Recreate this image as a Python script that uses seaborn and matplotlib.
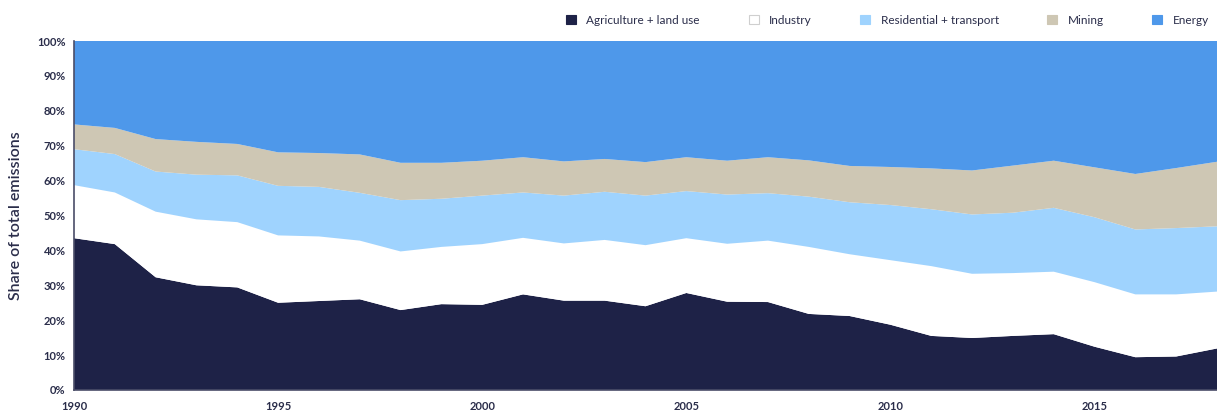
import numpy as np
import pandas as pd
import matplotlib
matplotlib.use("Agg")
import matplotlib.pyplot as plt
import seaborn as sns
from matplotlib.patches import Patch
from matplotlib.ticker import FuncFormatter

years = list(range(1990, 2019))
categories = ["Agriculture + land use", "Industry", "Residential + transport", "Mining", "Energy"]

agriculture = [43.5, 41.8, 32.3, 30.0, 29.4, 25.0, 25.5, 26.0, 22.9, 24.6,
               24.4, 27.4, 25.6, 25.6, 24.0, 27.8, 25.3, 25.2, 21.8, 21.2,
               18.7, 15.5, 14.9, 15.5, 16.0, 12.4, 9.4, 9.6, 11.9]
industry = [15.2, 14.8, 18.8, 18.9, 18.7, 19.3, 18.5, 16.8, 16.8, 16.4,
            17.4, 16.2, 16.4, 17.4, 17.5, 15.7, 16.6, 17.6, 19.2, 17.7,
            18.5, 20.0, 18.4, 18.0, 17.9, 18.5, 18.0, 17.8, 16.3]
residential = [10.3, 11.0, 11.5, 12.8, 13.4, 14.2, 14.2, 13.7, 14.7, 13.8,
               13.9, 13.0, 13.7, 13.8, 14.2, 13.5, 14.1, 13.6, 14.4, 14.9,
               15.8, 16.3, 17.0, 17.3, 18.3, 18.6, 18.6, 19.0, 18.7]
mining = [7.1, 7.5, 9.3, 9.4, 9.0, 9.6, 9.7, 11.0, 10.7, 10.3,
          10.0, 10.1, 9.8, 9.4, 9.6, 9.7, 9.7, 10.3, 10.4, 10.4,
          10.9, 11.7, 12.6, 13.5, 13.5, 14.3, 15.9, 17.2, 18.5]
energy = [100 - a - b - c - d for a, b, c, d in zip(agriculture, industry, residential, mining)]

x_ticks = [1990, 1995, 2000, 2005, 2010, 2015]
y_ticks = list(range(0, 101, 10))

colors = ["#1e2247", "#ffffff", "#9fd3fe", "#cec7b4", "#4e98ea"]
text_color = "#2a2d4a"

sns.set_theme(style="white")
plt.rcParams["font.family"] = ["Lato", "DejaVu Sans"]

fig = plt.figure(figsize=(12.17, 4.12), dpi=100)
ax = fig.add_axes([74 / 1217, 1 - 390 / 412, 1 - 74 / 1217, (390 - 41) / 412])

ax.stackplot(years, agriculture, industry, residential, mining, energy,
             colors=colors, linewidth=0, edgecolor="none")

ax.set_xlim(1990, 2018)
ax.set_ylim(0, 100)
ax.set_xticks(x_ticks)
ax.set_yticks(y_ticks)
ax.yaxis.set_major_formatter(FuncFormatter(lambda v, p: f"{int(v)}%"))

sns.despine(ax=ax, top=True, right=True)
for side in ["left", "bottom"]:
    ax.spines[side].set_color("#4a4d68")
    ax.spines[side].set_linewidth(1.2)
    ax.spines[side].set_zorder(5)

ax.tick_params(axis="y", direction="in", length=8, width=1.2, color="#2a2d4a",
               labelsize=8, labelcolor=text_color, pad=6)
ax.tick_params(axis="x", direction="out", length=6, width=1.2, color="#4a4d68",
               labelsize=8, labelcolor=text_color, pad=2)
for lab in ax.get_xticklabels() + ax.get_yticklabels():
    lab.set_fontweight("bold")
ax.set_axisbelow(False)
ax.grid(False)

ax.set_ylabel("Share of total emissions", fontsize=11.5, color=text_color,
              fontweight="semibold")
ax.yaxis.set_label_coords((23 - 74) / 1143, 0.5)

handles = [Patch(facecolor=c, edgecolor=("#cfcfcf" if c == "#ffffff" else c), linewidth=0.8)
           for c in colors]
fs = 8.5
em = fs * 100 / 72
leg = fig.legend(handles, categories, loc="center right",
                 bbox_to_anchor=(1209 / 1217, 1 - 20 / 412),
                 ncol=5, frameon=False, fontsize=fs, handlelength=10 / em, handleheight=9 / em,
                 handletextpad=10.5 / em, columnspacing=48.5 / em, borderpad=0,
                 borderaxespad=0, labelcolor=text_color)

fig.savefig("out.png", dpi=100, facecolor="white")
